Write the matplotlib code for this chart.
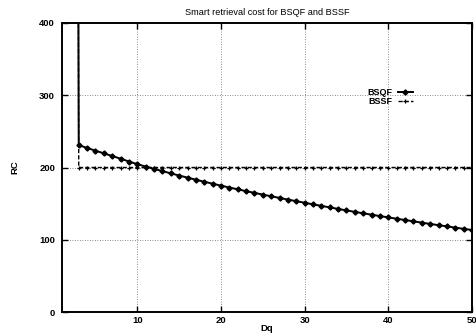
import matplotlib
matplotlib.use("Agg")
import matplotlib.pyplot as plt

# data
# (x=2 lies far above the plot range, gnuplot clips it to the border)
dq = list(range(2, 51))
bsqf = [5000,
        231.0, 227.0, 223.3, 219.6, 215.9, 212.2, 208.3, 204.6, 201.3, 198.1,
        195.0, 191.9, 188.9, 186.0, 183.1, 180.3, 177.6, 174.9, 172.3, 169.8,
        167.3, 164.9, 162.5, 160.2, 157.9, 155.6, 153.4, 151.2, 149.0, 146.9,
        144.8, 142.7, 140.6, 138.6, 136.6, 134.7, 132.8, 130.9, 129.1, 127.3,
        125.5, 123.7, 121.9, 120.2, 118.5, 116.8, 115.1, 113.5]
bssf = [5000] + [200] * 48

xticks = [10, 20, 30, 40, 50]
yticks = [0, 100, 200, 300, 400]

plt.rcParams['font.family'] = ['Liberation Sans', 'DejaVu Sans']

fig = plt.figure(figsize=(4.77, 3.34), dpi=100, facecolor='white')
ax = fig.add_axes([62 / 477, 1 - 312 / 334, 410 / 477, 289 / 334])

ax.plot(dq, bsqf, color='black', lw=1.4, marker='D', ms=2.6, label='BSQF', zorder=4)
ax.plot(dq, bssf, color='black', lw=1.0, ls=(0, (3, 1.5)), marker='+', ms=3.5,
        mew=0.9, label='BSSF', zorder=3)

ax.set_xlim(1, 50)
ax.set_ylim(0, 400)
ax.set_xticks(xticks)
ax.set_yticks(yticks)
ax.tick_params(direction='in', length=4, width=1, top=True, right=True,
               labelsize=6.8)
ax.tick_params(axis='y', pad=5)
ax.tick_params(axis='x', pad=3)
for lab in ax.get_xticklabels() + ax.get_yticklabels():
    lab.set_fontweight('bold')

ax.grid(True, color='#666666', ls=(0, (1, 2)), lw=0.6)
for s in ax.spines.values():
    s.set_linewidth(1.4)

ax.set_title('Smart retrieval cost for BSQF and BSSF', fontsize=6.6, pad=6)
ax.set_xlabel('Dq', fontsize=6.8, fontweight='bold', va='top')
ax.xaxis.set_label_coords(0.5, -0.04)
ax.set_ylabel('RC', fontsize=6.8, fontweight='bold', labelpad=14)

leg = ax.legend(loc='upper right', bbox_to_anchor=(0.855, 0.775), frameon=False,
                markerfirst=False, handlelength=1.6, handletextpad=0.6,
                labelspacing=0.05, borderpad=0, borderaxespad=0,
                prop={'size': 6.5, 'weight': 'bold'})

fig.savefig('out.png', dpi=100, facecolor='white')
